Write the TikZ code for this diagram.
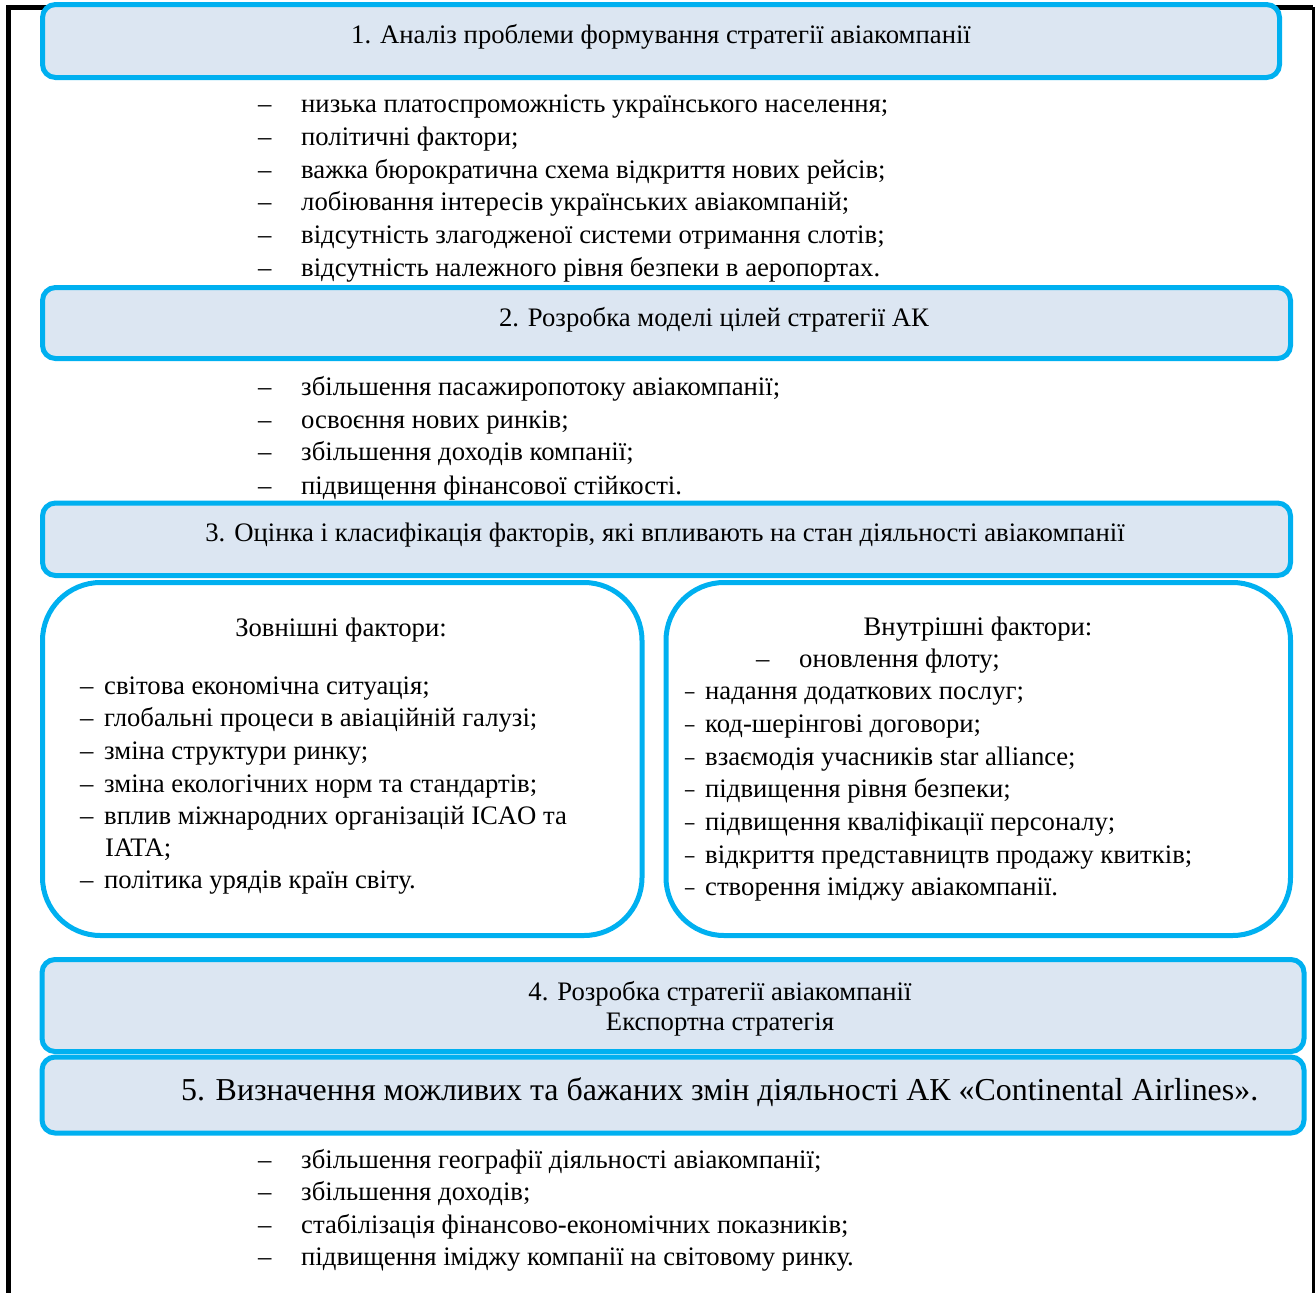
\documentclass[tikz,border=0pt]{standalone}
\usepackage{fontspec}
\setmainfont{Liberation Serif}
\definecolor{bord}{HTML}{00B0F0}
\definecolor{fillc}{HTML}{DCE6F2}
\newcommand{\mydashr}{\scalebox{0.7}[1]{–}}
\begin{document}
\begin{tikzpicture}[x=1pt,y=-1pt,
  hdr/.style={draw=bord, fill=fillc, line width=5pt, rounded corners=13pt, inner sep=0pt},
  fbox/.style={draw=bord, line width=5pt, rounded corners=58pt, inner sep=0pt},
  txt/.style={anchor=base west, inner sep=0pt, font=\fontsize{26.7}{32}\selectfont},
  ctxt/.style={anchor=base, inner sep=0pt, font=\fontsize{26.7}{32}\selectfont},
  bigtxt/.style={anchor=base west, inner sep=0pt, font=\fontsize{31.9}{38}\selectfont},
  frame/.style={draw=black, line width=5pt}]
\useasboundingbox (0,0) rectangle (1315,1293);
% outer frame
\coordinate (fbl) at (8,1293);
\coordinate (ftl) at (8,7);
\coordinate (ftr) at (1313,7);
\coordinate (fbr) at (1313,1293);
\draw[frame] (fbl) -- (ftl) -- (ftr);
\draw[black, line width=3pt] (ftr) -- (fbr);
% boxes
\node[hdr, minimum width=1237pt, minimum height=73pt] (b1) at (661,41) {};
\node[hdr, minimum width=1248pt, minimum height=71pt] (b2) at (666.5,323) {};
\node[hdr, minimum width=1248pt, minimum height=72.5pt] (b3) at (666.5,539.25) {};
\node[fbox, minimum width=599.5pt, minimum height=353pt] (bl) at (342.25,759) {};
\node[fbox, minimum width=624.5pt, minimum height=353pt] (br) at (978.25,759) {};
\node[hdr, minimum width=1262pt, minimum height=92pt] (b4) at (673,1005.5) {};
\node[hdr, minimum width=1262pt, minimum height=76pt] (b5) at (673,1095) {};
% titles
\node[ctxt] (t1) at (661,43) {1. Аналіз проблеми формування стратегії авіакомпанії};
\node[ctxt] (t2) at (714,326) {2. Розробка моделі цілей стратегії АК};
\node[ctxt] (t3) at (665,541) {3. Оцінка і класифікація факторів, які впливають на стан діяльності авіакомпанії};
\node[ctxt] (t4a) at (720,1000) {4. Розробка стратегії авіакомпанії};
\node[ctxt] (t4b) at (720,1030) {Експортна стратегія};
\node[bigtxt] (t5) at (181,1100) {5. Визначення можливих та бажаних змін діяльності АК «Continental Airlines».};
% list 1
\foreach \y/\s [count=\i] in {112/{низька платоспроможність українського населення;},
  145/{політичні фактори;},
  178/{важка бюрократична схема відкриття нових рейсів;},
  210/{лобіювання інтересів українських авіакомпаній;},
  243/{відсутність злагодженої системи отримання слотів;},
  276/{відсутність належного рівня безпеки в аеропортах.}}{
  \node[txt] (da\i) at (258,\y) {–};
  \node[txt] (la\i) at (301,\y) {\s};
}
% list 2
\foreach \y/\s [count=\i] in {395/{збільшення пасажиропотоку авіакомпанії;},
  428/{освоєння нових ринків;},
  460/{збільшення доходів компанії;},
  494/{підвищення фінансової стійкості.}}{
  \node[txt] (db\i) at (258,\y) {–};
  \node[txt] (lb\i) at (301,\y) {\s};
}
% external factors
\node[ctxt] (tl) at (341,636) {Зовнішні фактори:};
\foreach \y/\s [count=\i] in {694/{світова економічна ситуація;},
  726/{глобальні процеси в авіаційній галузі;},
  759/{зміна структури ринку;},
  792/{зміна екологічних норм та стандартів;},
  824/{вплив міжнародних організацій ICAO та},
  888/{політика урядів країн світу.}}{
  \node[txt] (dl\i) at (80,\y) {–};
  \node[txt] (ll\i) at (104,\y) {\s};
}
\node[txt] (llx) at (105,856) {IATA;};
% internal factors
\node[ctxt] (tr) at (978,635) {Внутрішні фактори:};
\node[txt] (dr0) at (756,667) {–};
\node[txt] (lr0) at (799,667) {оновлення флоту;};
\foreach \y/\s [count=\i] in {699/{надання додаткових послуг;},
  732/{код-шерінгові договори;},
  765/{взаємодія учасників star alliance;},
  797/{підвищення рівня безпеки;},
  830/{підвищення кваліфікації персоналу;},
  863/{відкриття представництв продажу квитків;},
  895/{створення іміджу авіакомпанії.}}{
  \node[txt] (dr\i) at (685,\y) {\mydashr};
  \node[txt] (lr\i) at (705,\y) {\s};
}
% list 5
\foreach \y/\s [count=\i] in {1168/{збільшення географії діяльності авіакомпанії;},
  1200/{збільшення доходів;},
  1233/{стабілізація фінансово-економічних показників;},
  1265/{підвищення іміджу компанії на світовому ринку.}}{
  \node[txt] (dc\i) at (258,\y) {–};
  \node[txt] (lc\i) at (301,\y) {\s};
}
\end{tikzpicture}
\end{document}
